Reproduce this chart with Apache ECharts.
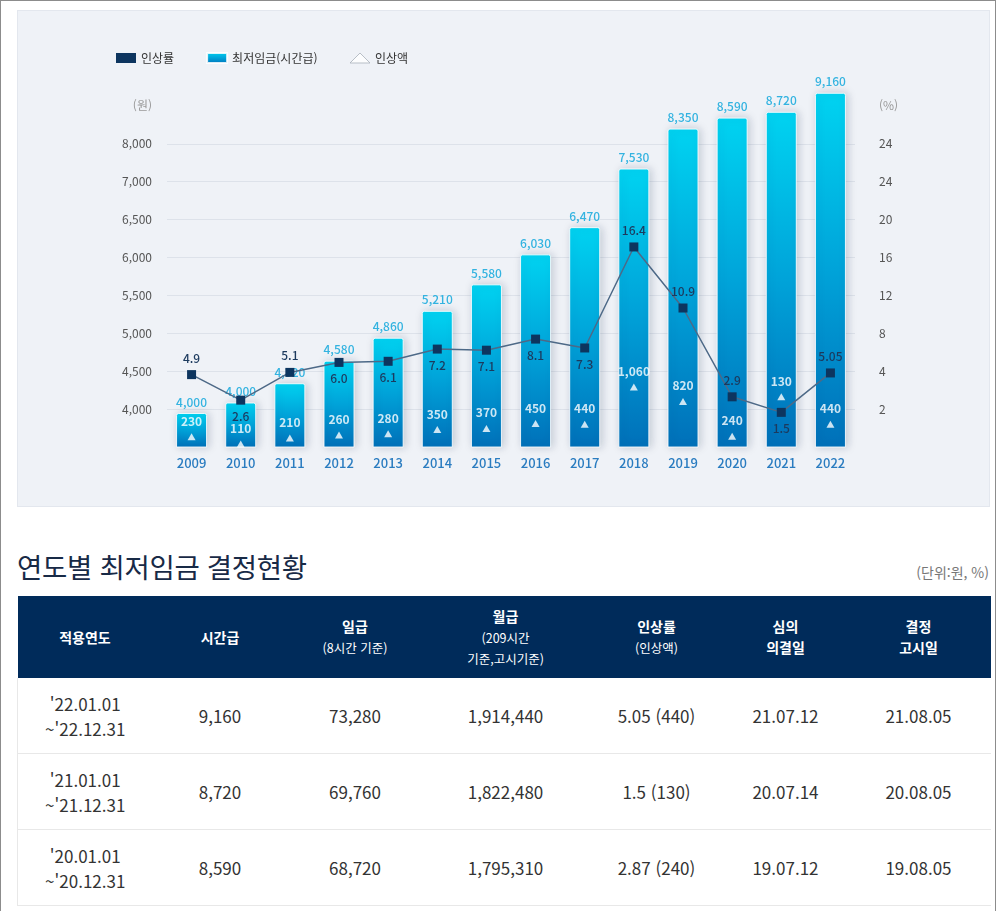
<!DOCTYPE html>
<html lang="ko">
<head>
<meta charset="utf-8">
<title>연도별 최저임금 결정현황</title>
<script src="https://cdn.jsdelivr.net/npm/echarts@6/dist/echarts.min.js"></script>
<style>
  html, body { margin: 0; padding: 0; background: #fff; overflow: hidden; }
  body {
    font-family: "Noto Sans CJK KR", "Noto Sans", sans-serif;
    width: 996px; height: 911px; box-sizing: border-box;
    border: 1px solid #8c8c8c; border-bottom: none; position: relative;
  }
  #chart-container {
    position: absolute; left: 16px; top: 9px; width: 971px; height: 495px;
    background: #eff2f7; border: 1px solid #e3e7ee;
  }
  .title {
    position: absolute; left: 16px; top: 545px; margin: 0;
    font-size: 27.5px; font-weight: 400; color: #182a46; letter-spacing: -0.3px;
  }
  .unit { position: absolute; right: 6px; top: 561px; font-size: 14px; color: #777; }
  table {
    position: absolute; left: 16px; top: 595px; width: 973px;
    border-collapse: collapse; table-layout: fixed;
  }
  th {
    background: #002b5a; color: #fff; font-size: 14px; font-weight: 700;
    height: 82px; padding: 0; line-height: 21px;
  }
  th small { display: block; font-size: 12.5px; font-weight: 400; }
  td {
    height: 75px; padding: 0; text-align: center; font-size: 17px; color: #333;
    line-height: 25px; border-bottom: 1px solid #e8e8e8;
  }
  tr td:first-child { border-left: 1px solid #e8e8e8; }
</style>
</head>
<body>
<div id="chart-container"></div>
<h2 class="title">연도별 최저임금 결정현황</h2>
<div class="unit">(단위:원, %)</div>
<table id="wage-table">
  <colgroup>
    <col style="width:135px"><col style="width:135px"><col style="width:135px">
    <col style="width:166px"><col style="width:136px"><col style="width:122px"><col style="width:144px">
  </colgroup>
  <thead><tr id="table-head"></tr></thead>
  <tbody id="table-body"></tbody>
</table>
<script>
const years = ["2009", "2010", "2011", "2012", "2013", "2014", "2015", "2016", "2017", "2018", "2019", "2020", "2021", "2022"];
const hourlyWage = [4000, 4110, 4320, 4580, 4860, 5210, 5580, 6030, 6470, 7530, 8350, 8590, 8720, 9160];
const wageLabels = ["4,000", "4,000", "4,320", "4,580", "4,860", "5,210", "5,580", "6,030", "6,470", "7,530", "8,350", "8,590", "8,720", "9,160"];
const raiseRate = [4.9, 2.6, 5.1, 6.0, 6.1, 7.2, 7.1, 8.1, 7.3, 16.4, 10.9, 2.9, 1.5, 5.05];
const raiseAmount = [230, 110, 210, 260, 280, 350, 370, 450, 440, 1060, 820, 240, 130, 440];
const leftTicks = ["4,000", "4,500", "5,000", "5,500", "6,000", "6,500", "7,000", "8,000"];
const rightTicks = ["2", "4", "8", "12", "16", "20", "24", "24"];
// years whose rate label sits under the point
const rateBelow = ["2010", "2012", "2013", "2014", "2015", "2016", "2017", "2021"];
// amount marker pushed up to clear the line, as in the original
const amountLifted = ["2021"];

const tableHead = [
  ["적용연도"], ["시간급"], ["일급", "(8시간 기준)"], ["월급", "(209시간", "기준,고시기준)"],
  ["인상률", "(인상액)"], ["심의", "의결일"], ["결정", "고시일"]
];
const tableRows = [
  ["'22.01.01<br>~'22.12.31", "9,160", "73,280", "1,914,440", "5.05 (440)", "21.07.12", "21.08.05"],
  ["'21.01.01<br>~'21.12.31", "8,720", "69,760", "1,822,480", "1.5 (130)", "20.07.14", "20.08.05"],
  ["'20.01.01<br>~'20.12.31", "8,590", "68,720", "1,795,310", "2.87 (240)", "19.07.12", "19.08.05"]
];

document.getElementById("table-head").innerHTML = tableHead.map((h) => {
  if (h.length === 1) return `<th>${h[0]}</th>`;
  if (h[0] === "심의" || h[0] === "결정") return `<th>${h.join("<br>")}</th>`;
  return `<th>${h[0]}${h.slice(1).map((s) => `<small>${s}</small>`).join("")}</th>`;
}).join("");
document.getElementById("table-body").innerHTML = tableRows
  .map((r) => `<tr>${r.map((c) => `<td>${c}</td>`).join("")}</tr>`).join("");

const dom = document.getElementById("chart-container");
const myChart = echarts.init(dom, null, { renderer: "canvas" });

const gridLineColors = ["transparent", "#dde2ea", "#dde2ea", "#dde2ea", "#dde2ea",
  "#dde2ea", "#dde2ea", "#dde2ea", "#dde2ea", "transparent", "transparent"];

const barGradient = new echarts.graphic.LinearGradient(0, 0, 0, 1, [
  { offset: 0, color: "#00d3f1" },
  { offset: 0.5, color: "#00a3d9" },
  { offset: 1, color: "#0070b9" }
]);

const option = {
  textStyle: { fontFamily: "Noto Sans CJK KR" },
  animation: false,
  legend: {
    left: 93,
    top: 36,
    itemWidth: 20,
    itemHeight: 10,
    itemGap: 32,
    selectedMode: false,
    textStyle: { color: "#333", fontSize: 12 },
    data: [
      { name: "인상률", icon: "rect" },
      { name: "최저임금(시간급)", icon: "rect" },
      { name: "인상액", icon: "triangle", itemStyle: { color: "#fff", borderColor: "#a9b0ba", borderWidth: 1 } }
    ]
  },
  grid: { left: 149, right: 134, top: 57, bottom: 59 },
  xAxis: {
    type: "category",
    data: years,
    axisLine: { show: false },
    axisTick: { show: false },
    axisLabel: { color: "#2a7cc0", fontSize: 13, fontWeight: 500, margin: 10 }
  },
  yAxis: [
    {
      type: "value", min: 0, max: 10, interval: 1,
      axisLine: { show: false }, axisTick: { show: false },
      axisLabel: {
        color: "#555", fontSize: 12, margin: 15,
        formatter: (v) => v >= 1 && v <= 8 ? leftTicks[v - 1] : (v === 9 ? "{u|(원)}" : ""),
        rich: { u: { color: "#999", fontSize: 12 } }
      },
      splitLine: { lineStyle: { color: gridLineColors, width: 1 } }
    },
    {
      type: "value", min: 0, max: 10, interval: 1, position: "right",
      axisLine: { show: false }, axisTick: { show: false },
      axisLabel: {
        color: "#555", fontSize: 12, margin: 24,
        formatter: (v) => v >= 1 && v <= 8 ? rightTicks[v - 1] : (v === 9 ? "{u|(%)}" : ""),
        rich: { u: { color: "#999", fontSize: 12 } }
      },
      splitLine: { show: false }
    },
    { type: "log", show: false, min: 3663, max: 9767, splitLine: { show: false } },
    { type: "value", show: false, min: -1.62, max: 32.52, splitLine: { show: false } },
    { type: "value", show: false, min: 60, max: 6377, splitLine: { show: false } }
  ],
  series: [
    {
      name: "최저임금(시간급)",
      type: "bar",
      yAxisIndex: 2,
      data: hourlyWage,
      barWidth: 31,
      itemStyle: {
        color: barGradient,
        borderColor: "rgba(255,255,255,0.85)",
        borderWidth: 1,
        borderRadius: [2, 2, 0, 0],
        shadowBlur: 8,
        shadowOffsetX: 2,
        shadowColor: "rgba(40,60,90,0.22)"
      },
      label: {
        show: true, position: "top", distance: 5,
        color: "#33b3e0", fontSize: 12, fontWeight: 500,
        formatter: (p) => wageLabels[p.dataIndex]
      }
    },
    {
      name: "인상액",
      type: "scatter",
      yAxisIndex: 4,
      data: raiseAmount.map((v, i) => (
        amountLifted.includes(years[i]) ? { value: v, symbolOffset: [0, -46] } : v
      )),
      symbol: "triangle",
      symbolSize: [8, 7],
      itemStyle: { color: "#fff" },
      label: {
        show: true, position: "top", distance: 6,
        color: "#fff", fontSize: 12, fontWeight: 700,
        formatter: (p) => p.value.toLocaleString("en-US")
      },
      z: 3
    },
    {
      name: "인상률",
      type: "line",
      yAxisIndex: 3,
      data: raiseRate.map((v, i) => ({
        value: v,
        label: { position: rateBelow.includes(years[i]) ? "bottom" : "top" }
      })),
      symbol: "rect",
      symbolSize: 9,
      lineStyle: { color: "#4d6987", width: 1.5 },
      itemStyle: { color: "#0d355f" },
      label: {
        show: true, distance: 6,
        color: "#1c3a5e", fontSize: 12, fontWeight: 500,
        formatter: (p) => (p.value % 1 === 0 ? p.value.toFixed(1) : String(p.value))
      },
      z: 4
    }
  ]
};

myChart.setOption(option);
window.addEventListener("resize", myChart.resize);
</script>
</body>
</html>
